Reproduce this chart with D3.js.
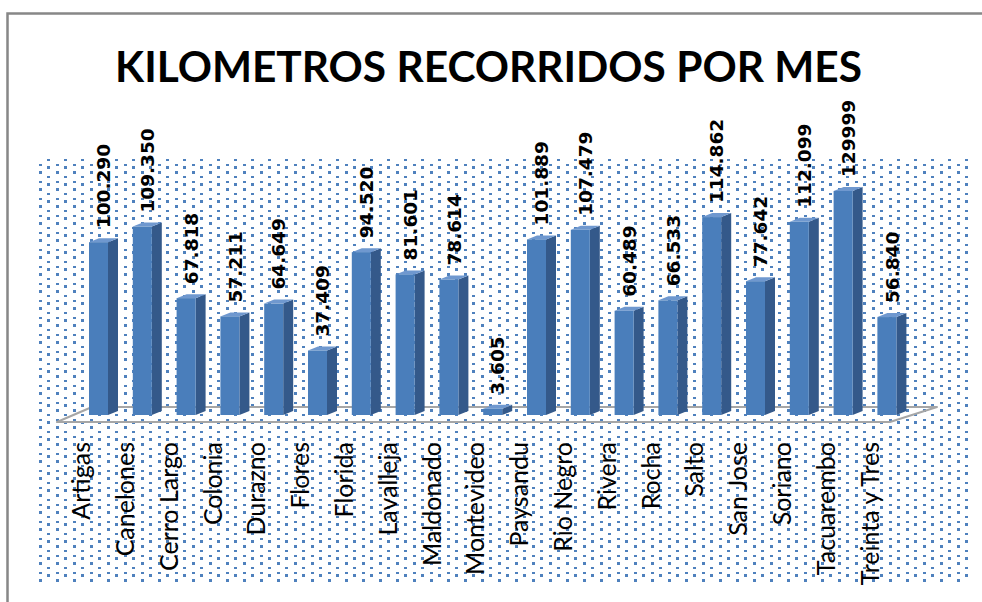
<!DOCTYPE html>
<html>
<head>
<meta charset="utf-8">
<script src="https://cdn.jsdelivr.net/npm/d3@7"></script>
<style>
  body { margin: 0; background: #fff; }
  svg { display: block; }
</style>
</head>
<body>
<div id="chart"></div>
<script>
// Data
var categories = ["Artigas", "Canelones", "Cerro Largo", "Colonia", "Durazno", "Flores", "Florida",
  "Lavalleja", "Maldonado", "Montevideo", "Paysandu", "Rio Negro", "Rivera", "Rocha", "Salto",
  "San Jose", "Soriano", "Tacuarembo", "Treinta y Tres"];
var values = [100290, 109350, 67818, 57211, 64649, 37409, 94520, 81601, 78614, 3605, 101889,
  107479, 60489, 66533, 114862, 77642, 112099, 129999, 56840];
var valueLabels = ["100.290", "109.350", "67.818", "57.211", "64.649", "37.409", "94.520", "81.601",
  "78.614", "3.605", "101.889", "107.479", "60.489", "66.533", "114.862", "77.642", "112.099",
  "129999", "56.840"];
var title = "KILOMETROS RECORRIDOS POR MES";

var width = 982, height = 602;
var svg = d3.select("#chart").append("svg")
    .attr("width", width)
    .attr("height", height);

// dotted pattern of the plot area
var defs = svg.append("defs");
var pat = defs.append("pattern")
    .attr("id", "dots")
    .attr("patternUnits", "userSpaceOnUse")
    .attr("x", 39).attr("y", 1)
    .attr("width", 17).attr("height", 17);
[[0, 0, 3, 3], [0, 10, 3, 2], [8, 5, 3, 2], [8, 12, 3, 3]].forEach(d => {
  pat.append("rect").attr("x", d[0]).attr("y", d[1]).attr("width", d[2]).attr("height", d[3])
    .attr("fill", "#4f81bd");
});

svg.append("rect")
    .attr("x", 38).attr("y", 157)
    .attr("width", 932).attr("height", 426)
    .attr("fill", "url(#dots)");

// chart frame
svg.append("path")
    .attr("d", "M7.5,602V13.5H982")
    .attr("fill", "none")
    .attr("stroke", "#878787")
    .attr("stroke-width", 2.5);

// title, sized so it spans about 747px
var titleText = svg.append("text")
    .attr("x", 488.5)
    .attr("y", 82)
    .attr("text-anchor", "middle")
    .style("font-family", "Lato, 'Liberation Sans', sans-serif")
    .style("font-weight", "bold")
    .style("font-size", "50px")
    .text(title);
var natural = titleText.node().getComputedTextLength();
if (natural > 0) titleText.style("font-size", (50 * 747 / natural) + "px");

// scales
var x = d3.scalePoint()
    .domain(categories)
    .range([98.5, 886.9]);

var y = d3.scaleLinear()
    .domain([0, 130000])
    .range([415, 191]);

var frontW = 19, dx = 10, dy = 4;

// floor
svg.append("path")
    .attr("d", "M57,422L890,422L937,407L92,407Z")
    .attr("fill", "none")
    .attr("stroke", "#a6a6a6")
    .attr("stroke-width", 2)
    .attr("stroke-linejoin", "round");

// bars
var bars = svg.selectAll(".bar")
    .data(categories)
    .enter().append("g")
    .attr("class", "bar");

bars.append("polygon")
    .attr("points", (d, i) => {
      var xr = x(d) + frontW / 2, t = y(values[i]), b = y(0);
      return [[xr, t], [xr + dx, t - dy], [xr + dx, b - dy], [xr, b]].join(" ");
    })
    .attr("fill", "#34598a");

bars.append("polygon")
    .attr("points", (d, i) => {
      var xl = x(d) - frontW / 2, xr = x(d) + frontW / 2, t = y(values[i]);
      return [[xl, t], [xl + dx, t - dy], [xr + dx, t - dy], [xr, t]].join(" ");
    })
    .attr("fill", "#6f98cf");

bars.append("rect")
    .attr("x", d => x(d) - frontW / 2)
    .attr("y", (d, i) => y(values[i]))
    .attr("width", frontW)
    .attr("height", (d, i) => y(0) - y(values[i]))
    .attr("fill", "#4a7ebb");

// value labels
svg.selectAll(".vlabel")
    .data(categories)
    .enter().append("text")
    .attr("class", "vlabel")
    .attr("transform", (d, i) => "translate(" + (x(d) + 5) + "," + (y(values[i]) - 14) + ") rotate(-90)")
    .attr("dy", "0.36em")
    .attr("text-anchor", "start")
    .style("font-family", "'DejaVu Sans', sans-serif")
    .style("font-weight", "bold")
    .style("font-size", "18.5px")
    .text((d, i) => valueLabels[i]);

// category labels
svg.selectAll(".clabel")
    .data(categories)
    .enter().append("text")
    .attr("class", "clabel")
    .attr("transform", d => "translate(" + (x(d) - 17) + ",442) rotate(-90)")
    .attr("dy", "0.35em")
    .attr("text-anchor", "end")
    .style("font-family", "Lato, 'Liberation Sans', sans-serif")
    .style("font-size", "25px")
    .text(d => d);
</script>
</body>
</html>
